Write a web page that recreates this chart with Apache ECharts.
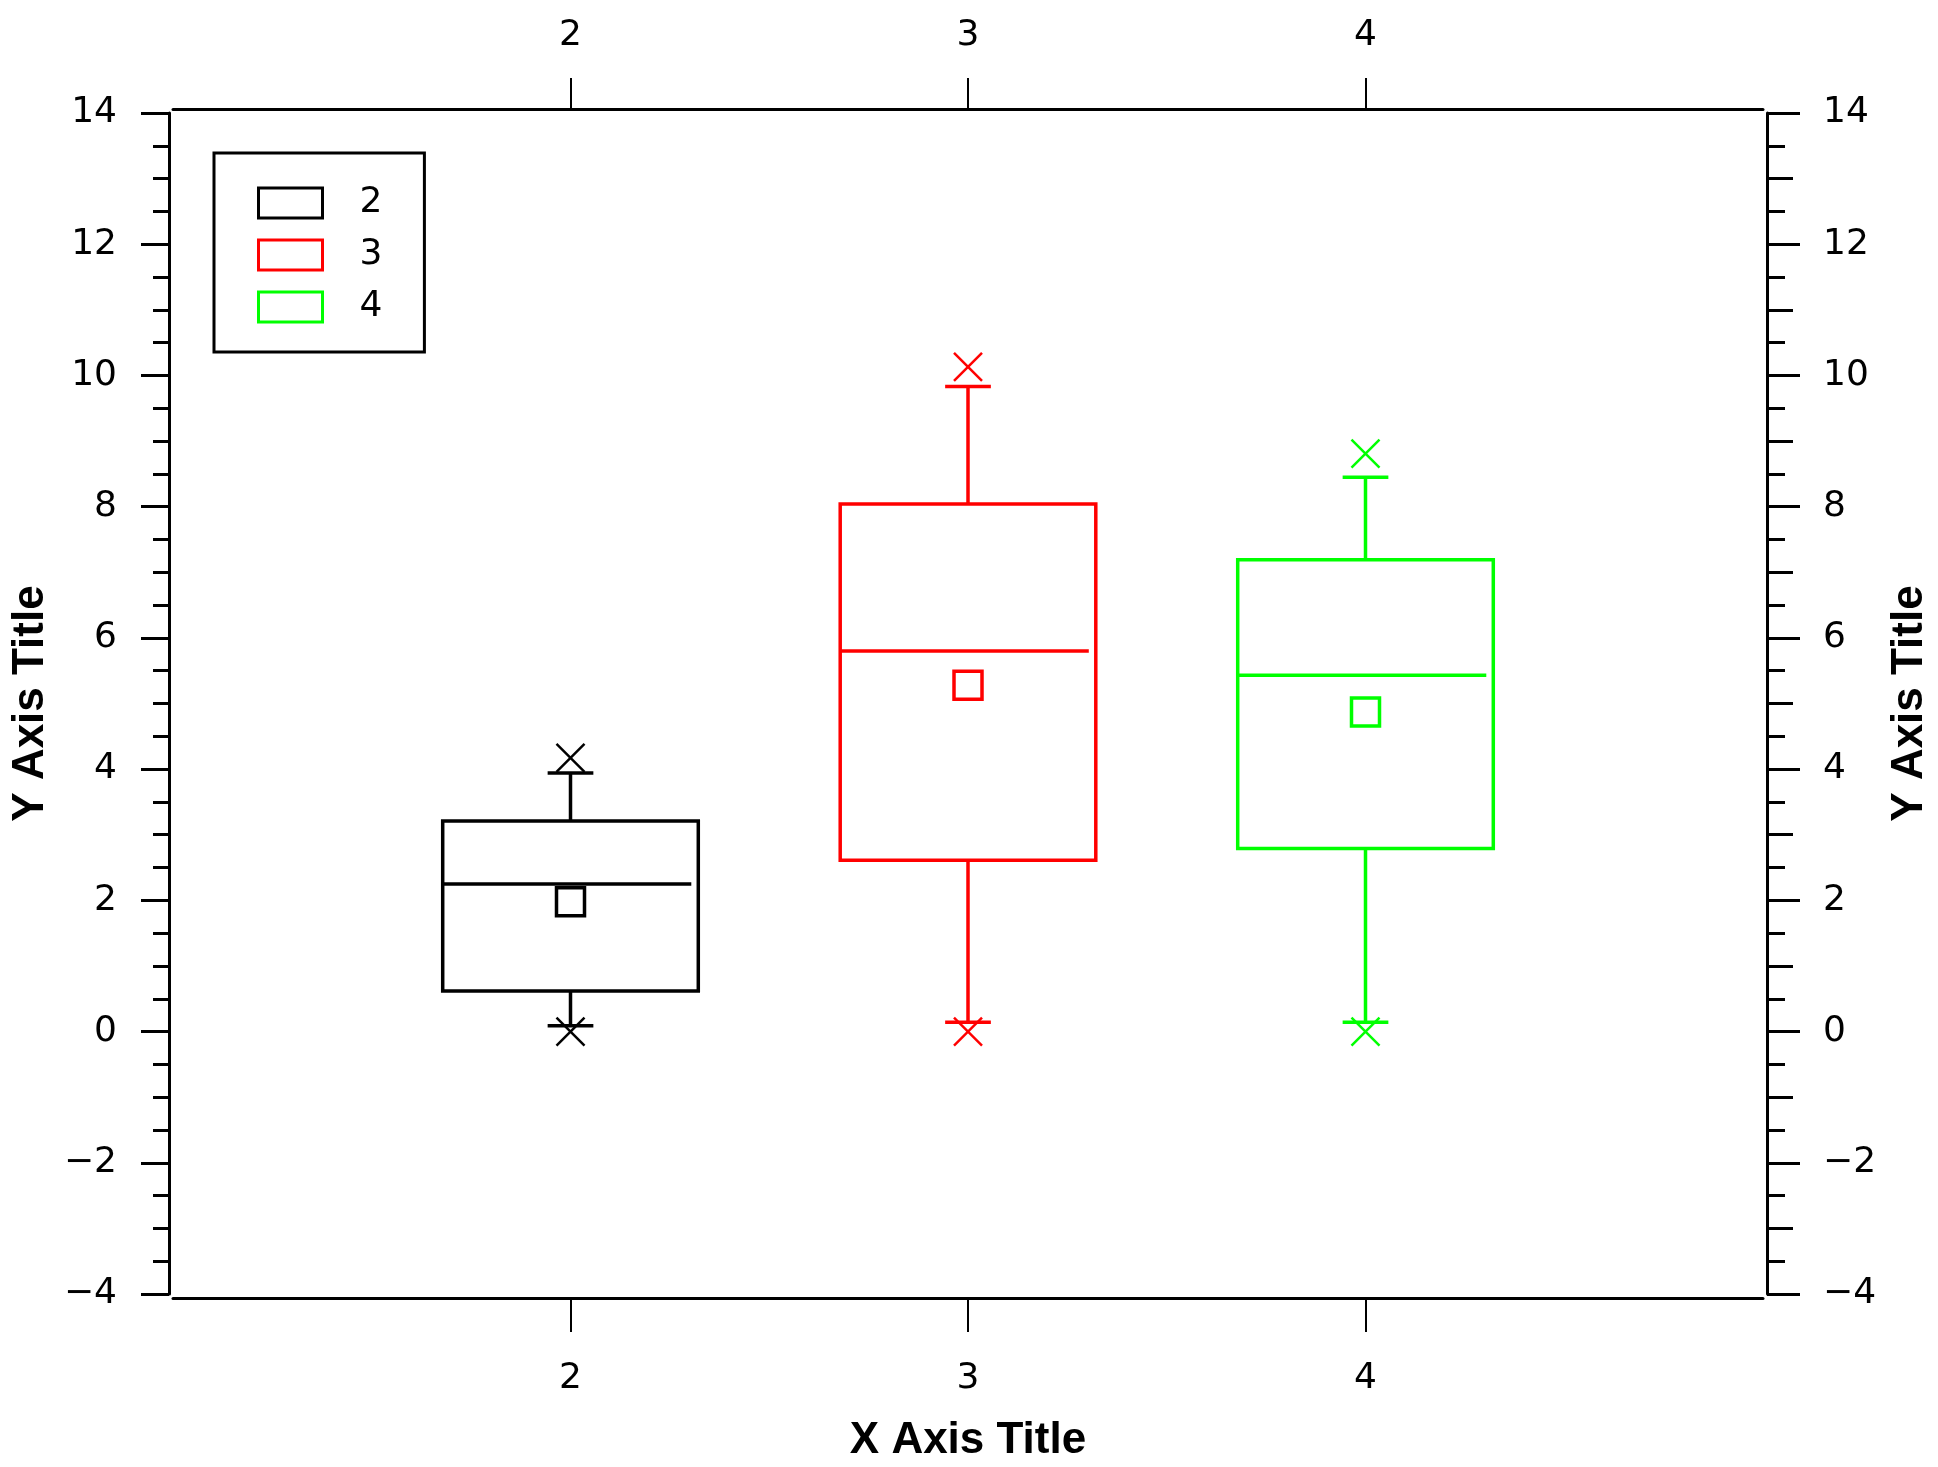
<!DOCTYPE html>
<html>
<head>
<meta charset="utf-8">
<script src="https://cdn.jsdelivr.net/npm/echarts@6/dist/echarts.min.js"></script>
<style>
  html, body { margin: 0; padding: 0; background: #fff; }
  #chart { width: 1938px; height: 1467px; }
</style>
</head>
<body>
<div id="chart"></div>
<script>
// box statistics per group
const groupNames = ['2', '3', '4'];
const xValues = [2, 3, 4];
const minValues = [0, 0, 0];
const lowerWhisker = [0.09, 0.14, 0.14];
const q1Values = [0.62, 2.61, 2.79];
const medianValues = [2.25, 5.80, 5.43];
const meanValues = [1.98, 5.28, 4.87];
const q3Values = [3.21, 8.04, 7.19];
const upperWhisker = [3.94, 9.83, 8.45];
const maxValues = [4.17, 10.13, 8.81];
const groupColors = ['#000000', '#ff0000', '#00ff00'];
const xTickValues = [2, 3, 4];

let chartDom = document.getElementById('chart');
let myChart = echarts.init(chartDom);

const labelFont = 'DejaVu Sans';
const titleFont = 'Liberation Sans';

function yLabel(v) {
    return String(v).replace('-', '\u2212');
}

function renderBox(params, api) {
    const x = api.value(0);
    const color = groupColors[api.value(9)];
    const cx = api.coord([x, 0])[0];
    const y = (v) => api.coord([x, v])[1];
    const boxW = api.size([0.643, 0])[0];
    const capW = api.size([0.115, 0])[0];
    const left = cx - boxW / 2;
    const sq = 28;
    const xs = 14;
    const lineStyle = { stroke: color, lineWidth: 3.5, fill: null };
    const thin = { stroke: color, lineWidth: 2.5, fill: null };
    const yMin = y(api.value(1)), yLow = y(api.value(2)), yQ1 = y(api.value(3));
    const yMed = y(api.value(4)), yMean = y(api.value(5)), yQ3 = y(api.value(6));
    const yHigh = y(api.value(7)), yMax = y(api.value(8));
    return {
        type: 'group',
        children: [
            { type: 'rect', shape: { x: left, y: yQ3, width: boxW, height: yQ1 - yQ3 }, style: lineStyle },
            { type: 'line', shape: { x1: left, y1: yMed, x2: left + boxW - 7, y2: yMed }, style: lineStyle },
            { type: 'line', shape: { x1: cx, y1: yQ3, x2: cx, y2: yHigh }, style: lineStyle },
            { type: 'line', shape: { x1: cx, y1: yQ1, x2: cx, y2: yLow }, style: lineStyle },
            { type: 'line', shape: { x1: cx - capW / 2, y1: yHigh, x2: cx + capW / 2, y2: yHigh }, style: lineStyle },
            { type: 'line', shape: { x1: cx - capW / 2, y1: yLow, x2: cx + capW / 2, y2: yLow }, style: lineStyle },
            { type: 'rect', shape: { x: cx - sq / 2, y: yMean - sq / 2, width: sq, height: sq }, style: lineStyle },
            { type: 'line', shape: { x1: cx - xs, y1: yMax - xs, x2: cx + xs, y2: yMax + xs }, style: thin },
            { type: 'line', shape: { x1: cx - xs, y1: yMax + xs, x2: cx + xs, y2: yMax - xs }, style: thin },
            { type: 'line', shape: { x1: cx - xs, y1: yMin - xs, x2: cx + xs, y2: yMin + xs }, style: thin },
            { type: 'line', shape: { x1: cx - xs, y1: yMin + xs, x2: cx + xs, y2: yMin - xs }, style: thin }
        ]
    };
}

let seriesList = [];
let legendData = [];
for (let i = 0; i < groupNames.length; i++) {
    seriesList.push({
        name: groupNames[i],
        type: 'custom',
        xAxisIndex: 0,
        yAxisIndex: 0,
        renderItem: renderBox,
        itemStyle: { color: groupColors[i] },
        encode: { x: 0, y: [1, 8] },
        data: [[xValues[i], minValues[i], lowerWhisker[i], q1Values[i], medianValues[i],
            meanValues[i], q3Values[i], upperWhisker[i], maxValues[i], i]]
    });
    legendData.push({
        name: groupNames[i],
        icon: 'rect',
        itemStyle: { color: '#ffffff', borderColor: groupColors[i], borderWidth: 3 }
    });
}

const yBase = {
    type: 'value',
    min: -4,
    max: 14,
    interval: 2,
    splitLine: { show: false },
    axisLine: { show: true, onZero: false, lineStyle: { color: '#000', width: 3 } }
};

let option = {
    animation: false,
    backgroundColor: '#ffffff',
    grid: {
        left: 173,
        top: 113,
        width: 1590,
        height: 1181,
        outerBoundsMode: 'none',
        show: false
    },
    legend: {
        data: legendData,
        orient: 'vertical',
        left: 214,
        top: 153,
        padding: [32, 42, 27, 43],
        itemWidth: 64,
        itemHeight: 30,
        itemGap: 16,
        borderColor: '#000',
        borderWidth: 3,
        selectedMode: false,
        textStyle: {
            fontFamily: labelFont,
            fontSize: 36,
            color: '#000',
            lineHeight: 30,
            padding: [0, 0, 0, 32]
        }
    },
    xAxis: [{
        type: 'value',
        position: 'bottom',
        min: 1,
        max: 5,
        interval: 1,
        offset: 4,
        name: 'X Axis Title',
        nameLocation: 'middle',
        nameGap: 121,
        nameTextStyle: { fontFamily: titleFont, fontWeight: 'bold', fontSize: 44, color: '#000' },
        splitLine: { show: false },
        axisLine: { show: true, onZero: false, lineStyle: { color: '#000', width: 3 } },
        axisTick: { show: true, customValues: xTickValues, length: 34, lineStyle: { color: '#000', width: 2 } },
        axisLabel: { customValues: xTickValues, margin: 63, fontFamily: labelFont, fontSize: 36, color: '#000' }
    }, {
        type: 'value',
        position: 'top',
        min: 1,
        max: 5,
        interval: 1,
        offset: 4,
        splitLine: { show: false },
        axisLine: { show: true, onZero: false, lineStyle: { color: '#000', width: 3 } },
        axisTick: { show: true, customValues: xTickValues, length: 31, lineStyle: { color: '#000', width: 2 } },
        axisLabel: { customValues: xTickValues, margin: 55, fontFamily: labelFont, fontSize: 36, color: '#000' }
    }],
    yAxis: [Object.assign({}, yBase, {
        position: 'left',
        offset: 4,
        name: 'Y Axis Title',
        nameLocation: 'middle',
        nameGap: 114,
        nameTextStyle: { fontFamily: titleFont, fontWeight: 'bold', fontSize: 44, color: '#000' },
        axisTick: { show: true, length: 28, lineStyle: { color: '#000', width: 3 } },
        minorTick: { show: true, splitNumber: 4, length: 16, lineStyle: { color: '#000', width: 3 } },
        axisLabel: { margin: 52, fontFamily: labelFont, fontSize: 36, color: '#000', formatter: yLabel }
    }), Object.assign({}, yBase, {
        position: 'right',
        offset: 4,
        name: 'Y Axis Title',
        nameLocation: 'middle',
        nameGap: 121,
        nameTextStyle: { fontFamily: titleFont, fontWeight: 'bold', fontSize: 44, color: '#000' },
        axisTick: { show: true, length: 33, lineStyle: { color: '#000', width: 3 } },
        minorTick: { show: true, splitNumber: 4, length: 18, lineStyle: { color: '#000', width: 3 } },
        axisLabel: { margin: 56, fontFamily: labelFont, fontSize: 36, color: '#000', formatter: yLabel }
    }), Object.assign({}, yBase, {
        // medium ticks at odd integers on the right side
        position: 'right',
        offset: 4,
        interval: 1,
        axisLine: { show: false },
        axisTick: { show: true, length: 26, lineStyle: { color: '#000', width: 3 } },
        axisLabel: { show: false }
    })],
    series: seriesList
};

option && myChart.setOption(option);
</script>
</body>
</html>
